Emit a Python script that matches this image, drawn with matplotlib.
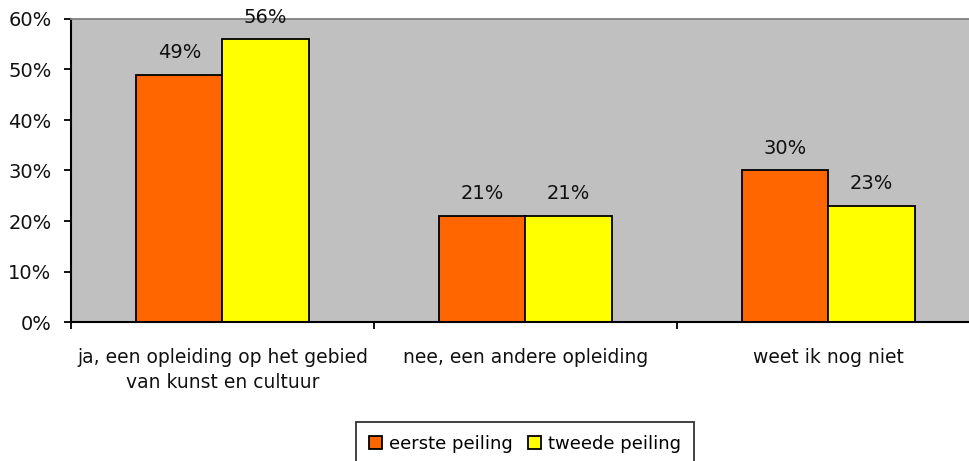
import matplotlib
matplotlib.use("Agg")
import matplotlib.pyplot as plt
import numpy as np

categories = ["ja, een opleiding op het gebied\nvan kunst en cultuur",
              "nee, een andere opleiding",
              "weet ik nog niet"]
eerste = [49, 21, 30]
tweede = [56, 21, 23]
series_names = ["eerste peiling", "tweede peiling"]
yticks = [0, 10, 20, 30, 40, 50, 60]

plt.rcParams['font.family'] = ['DejaVu Sans']
fig = plt.figure(figsize=(9.7, 4.61), dpi=100)
ax = fig.add_axes([71/970, 1-322/461, 909/970, (322-19)/461])
ax.set_facecolor('#C0C0C0')

x = np.arange(len(categories))
w = 0.285
b1 = ax.bar(x - w/2, eerste, w, color='#FF6600', edgecolor='black', linewidth=1.3, label=series_names[0])
b2 = ax.bar(x + w/2, tweede, w, color='#FFFF00', edgecolor='black', linewidth=1.3, label=series_names[1])

for bars, vals in ((b1, eerste), (b2, tweede)):
    for r, v in zip(bars, vals):
        ax.annotate(f"{v}%", (r.get_x() + r.get_width()/2, v), xytext=(0, 9),
                    textcoords='offset points', ha='center', va='bottom', fontsize=14,
                    color='#111111')

ax.set_xlim(-0.5, 2.5)
ax.set_ylim(0, 60)
ax.set_yticks(yticks)
ax.set_yticklabels([f"{t}%" for t in yticks], fontsize=14, color='#111111')
ax.set_xticks(x)
ax.set_xticklabels(categories, fontsize=13.5, linespacing=1.4, color='#111111')
ax.tick_params(axis='x', length=0, pad=19)
ax.set_xticks([-0.5, 0.5, 1.5, 2.5], minor=True)
ax.tick_params(axis='x', which='minor', length=5, width=1.3, direction='out')
ax.tick_params(axis='y', length=5, width=1.3, direction='out', pad=9)

ax.spines['top'].set_color('#808080')
ax.spines['top'].set_linewidth(1.3)
ax.spines['right'].set_visible(False)
ax.spines['left'].set_linewidth(1.5)
ax.spines['bottom'].set_linewidth(1.5)

leg = fig.legend(handles=[b1, b2], labels=series_names, loc='upper center',
                 bbox_to_anchor=(525/970, 1-422/461), ncol=2, frameon=True,
                 fancybox=False, edgecolor='black', fontsize=13,
                 handlelength=0.72, handleheight=0.72, handletextpad=0.39,
                 columnspacing=0.83, borderpad=0.7, borderaxespad=0)
leg.get_frame().set_linewidth(1.3)

fig.savefig("out.png", dpi=100)
